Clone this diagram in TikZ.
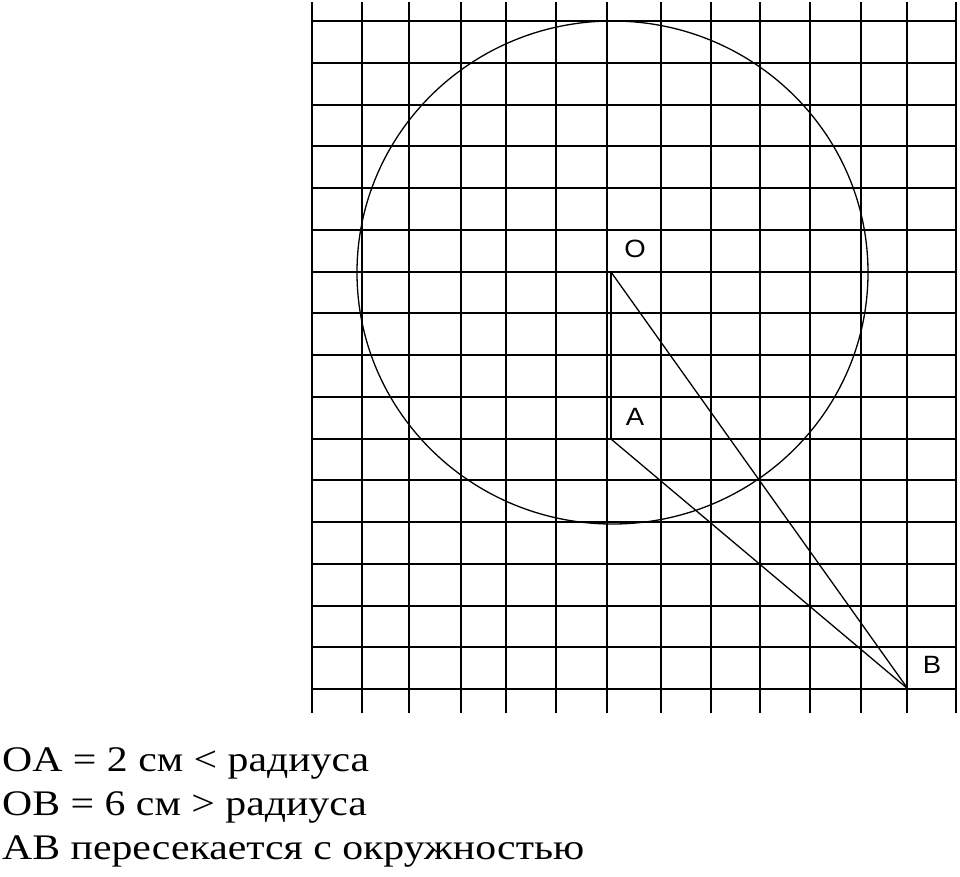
\documentclass[tikz,border=0pt]{standalone}
\usepackage{fontspec}
\setmainfont{Liberation Serif}
\newfontfamily\lblfont{Liberation Sans}
\tikzset{
  gridline/.style={line width=2pt, black},
  thinline/.style={line width=1.3pt, black},
  ptlabel/.style={font=\lblfont\fontsize{25}{25}\selectfont, inner sep=0pt, xscale=1.1, transform shape},
  note/.style={font=\fontsize{36}{36}\selectfont, inner sep=0pt, anchor=base west, xscale=1.16, transform shape}
}
\begin{document}
\begin{tikzpicture}[x=1pt, y=-1pt]
  \useasboundingbox (0,0) rectangle (960,876);
  % grid
  \foreach \gx in {312,362,409,461,506,556,607,661,711,760,810,861,907,956}
    \draw[gridline] (\gx,2) -- (\gx,713);
  \foreach \j in {0,...,16}
    \draw[gridline] (312,21+41.75*\j) -- (956,21+41.75*\j);
  % circle
  \draw[thinline] (612.5,272.5) ellipse [x radius=255.5, y radius=251.5];
  % points
  \coordinate (O) at (611,272);
  \coordinate (A) at (611,439);
  \coordinate (B) at (908,689);
  \draw[thinline] (O) -- (A);
  \draw[thinline] (O) -- (B);
  \draw[thinline] (A) -- (B);
  \node[ptlabel] (labO) at (635,249) {O};
  \node[ptlabel] (labA) at (635,417) {A};
  \node[ptlabel] (labB) at (932,665) {B};
  % notes
  \node[note] (oa) at (2,771) {OA = 2 см < радиуса};
  \node[note] (ob) at (2,815) {OB = 6 см > радиуса};
  \node[note] (ab) at (2,859) {AB пересекается с окружностью};
\end{tikzpicture}
\end{document}
